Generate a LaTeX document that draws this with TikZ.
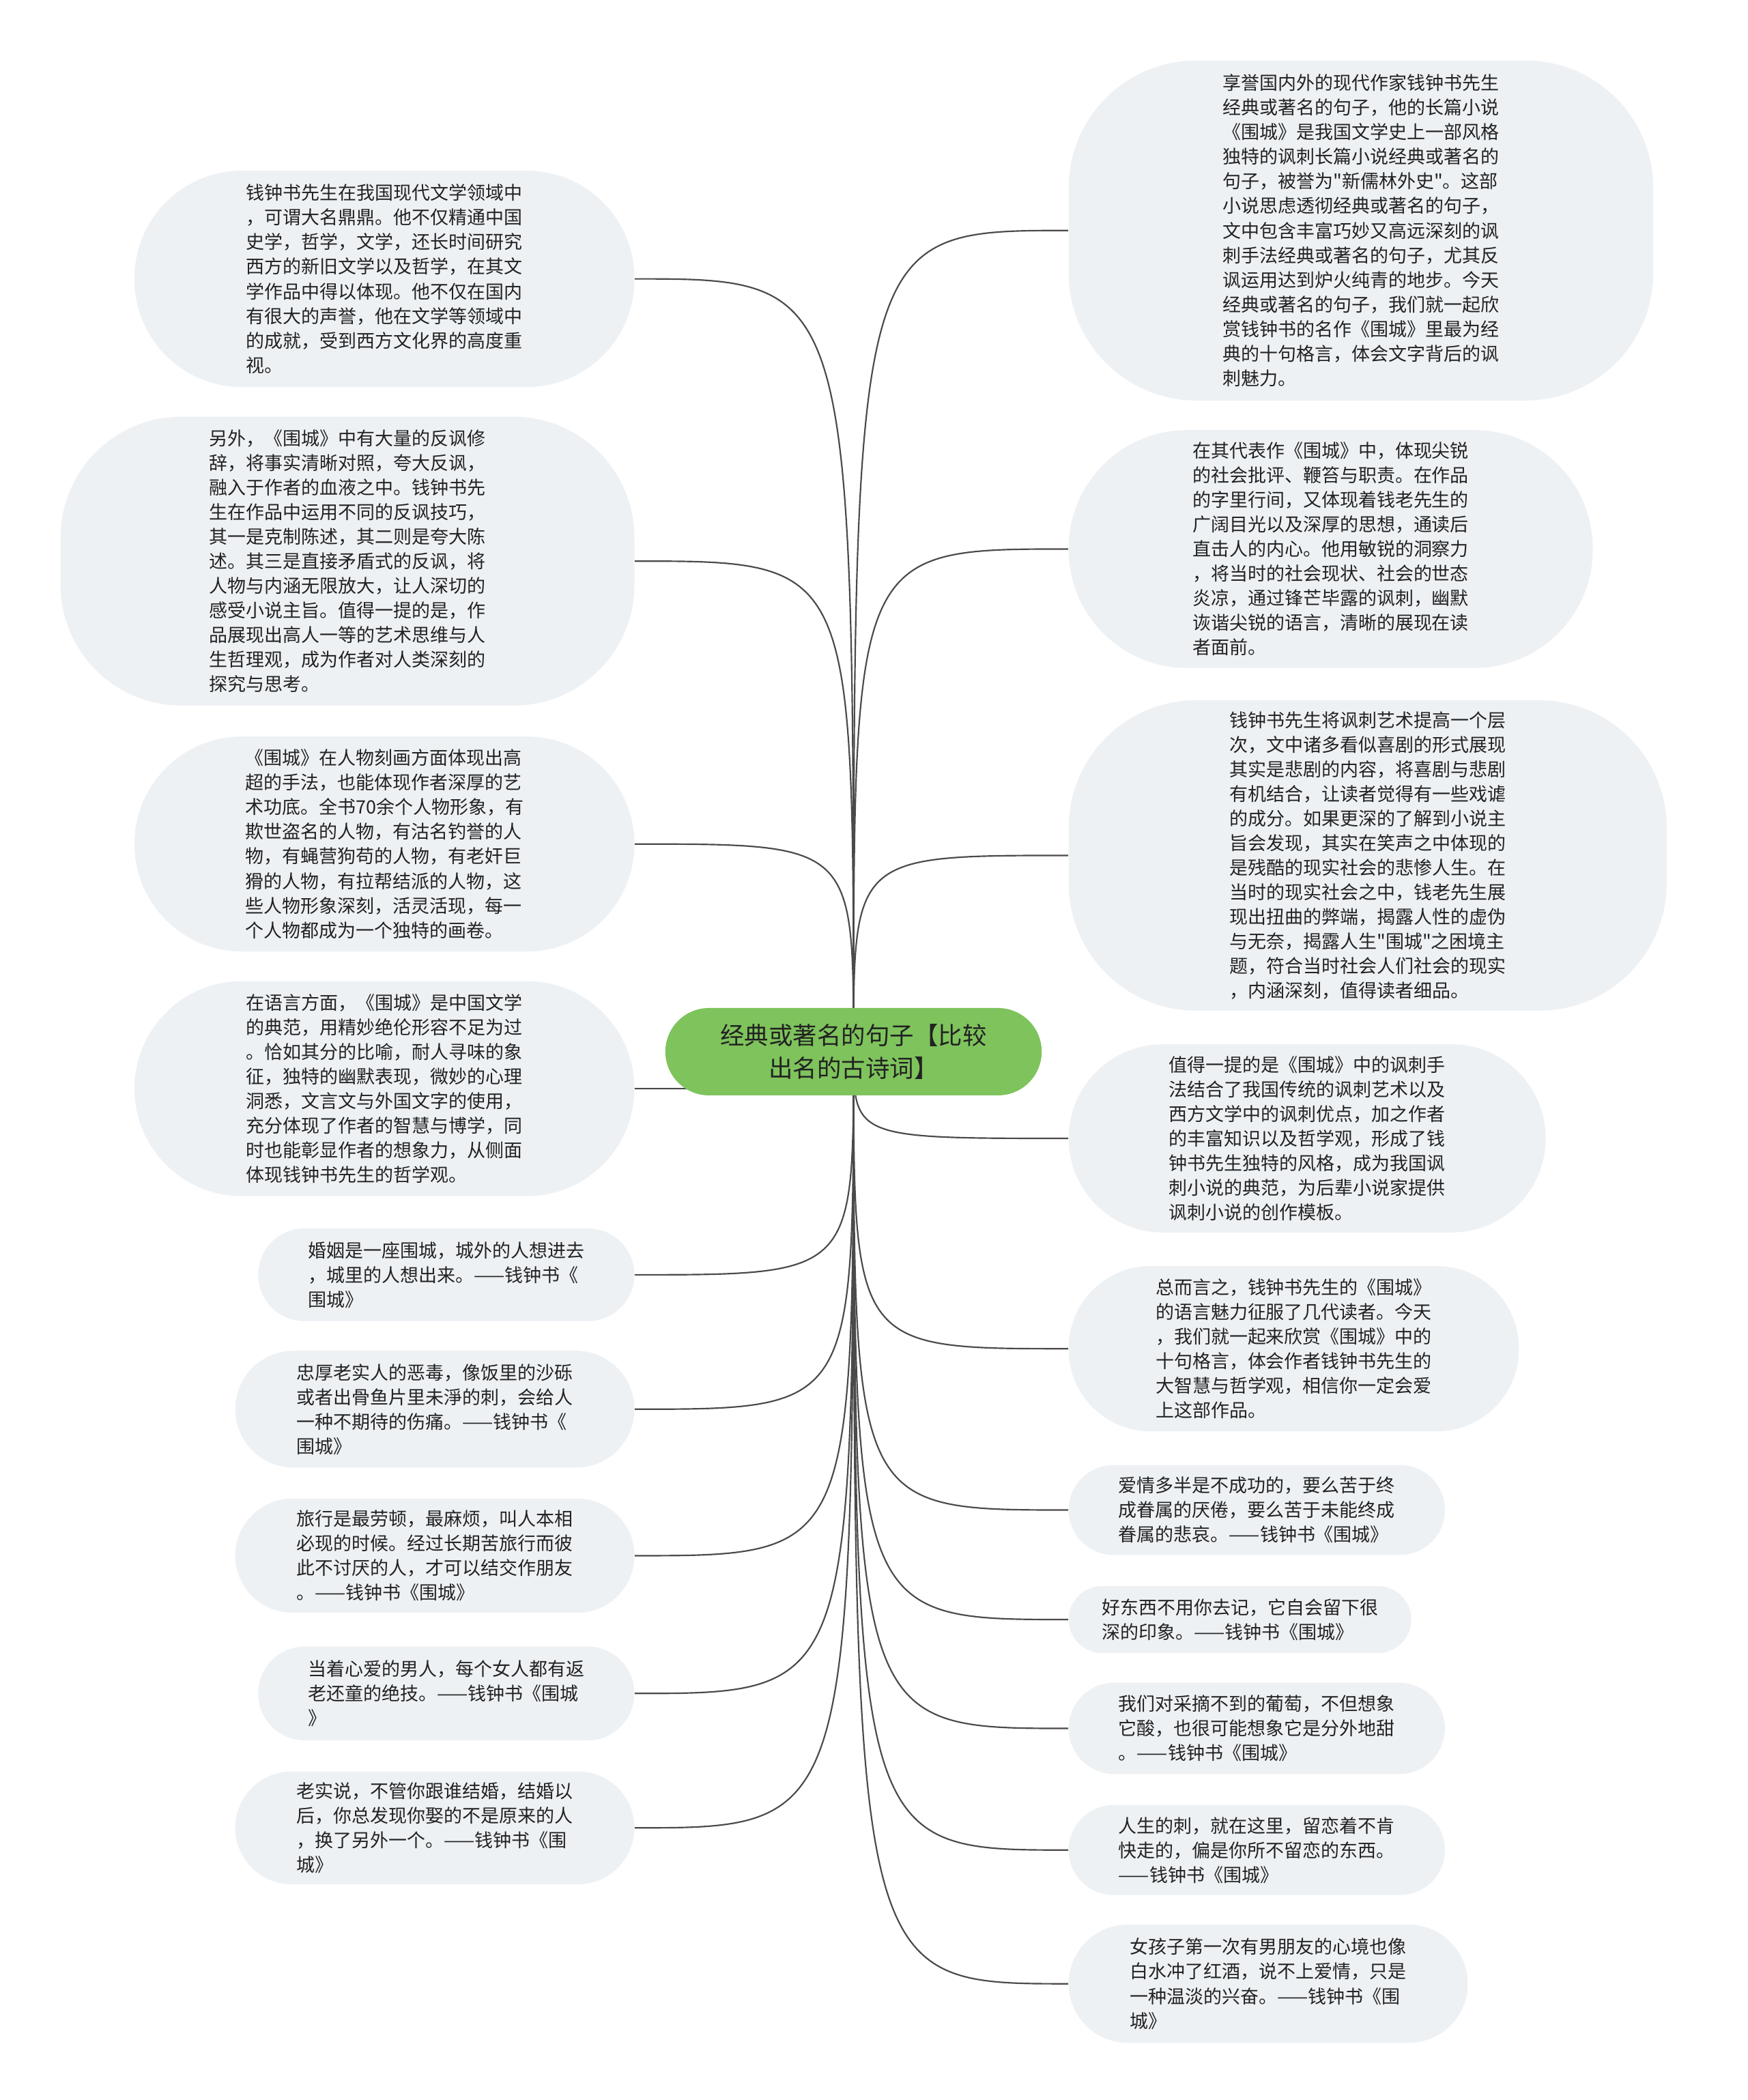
\documentclass[tikz,border=0pt]{standalone}
\usepackage{fontspec}
\usepackage{tikz}
\usetikzlibrary{backgrounds}
\newfontfamily\cjk{Noto Sans CJK SC}
\definecolor{leafgray}{HTML}{EEF1F4}
\definecolor{rootgreen}{HTML}{7EC35C}
\definecolor{linkgray}{HTML}{4A4A4A}
\definecolor{textdark}{HTML}{222222}

\begin{document}
\begin{tikzpicture}[x=1pt, y=-1pt,
    leaf/.style={fill=leafgray, inner sep=0pt, align=left, text=textdark,
      font=\cjk\fontsize{13.7}{18.3}\selectfont},
    root/.style={fill=rootgreen, inner sep=0pt, align=center, text=textdark,
      font=\cjk\fontsize{18}{24}\selectfont},
    link/.style={draw=linkgray, line width=1.1pt}]
    \useasboundingbox (0,0) rectangle (1300,1562.5);
    \node[root, minimum width=280pt, minimum height=65pt, rounded corners=32.5pt] (root) at (635,782.5) {经典或著名的句子【比较\\出名的古诗词】};
    \node[leaf, minimum width=372pt, minimum height=161pt, rounded corners=80pt] (l1) at (286,207.5) {钱钟书先生在我国现代文学领域中\\，可谓大名鼎鼎。他不仅精通中国\\史学，哲学，文学，还长时间研究\\西方的新旧文学以及哲学，在其文\\学作品中得以体现。他不仅在国内\\有很大的声誉，他在文学等领域中\\的成就，受到西方文化界的高度重\\视。};
    \node[leaf, minimum width=427pt, minimum height=215pt, rounded corners=90pt] (l2) at (258.5,417.5) {另外，《围城》中有大量的反讽修\\辞，将事实清晰对照，夸大反讽，\\融入于作者的血液之中。钱钟书先\\生在作品中运用不同的反讽技巧，\\其一是克制陈述，其二则是夸大陈\\述。其三是直接矛盾式的反讽，将\\人物与内涵无限放大，让人深切的\\感受小说主旨。值得一提的是，作\\品展现出高人一等的艺术思维与人\\生哲理观，成为作者对人类深刻的\\探究与思考。};
    \node[leaf, minimum width=372pt, minimum height=160pt, rounded corners=80pt] (l3) at (286,628) {《围城》在人物刻画方面体现出高\\超的手法，也能体现作者深厚的艺\\术功底。全书70余个人物形象，有\\欺世盗名的人物，有沽名钓誉的人\\物，有蝇营狗苟的人物，有老奸巨\\猾的人物，有拉帮结派的人物，这\\些人物形象深刻，活灵活现，每一\\个人物都成为一个独特的画卷。};
    \node[leaf, minimum width=372pt, minimum height=160pt, rounded corners=80pt] (l4) at (286,810) {在语言方面，《围城》是中国文学\\的典范，用精妙绝伦形容不足为过\\。恰如其分的比喻，耐人寻味的象\\征，独特的幽默表现，微妙的心理\\洞悉，文言文与外国文字的使用，\\充分体现了作者的智慧与博学，同\\时也能彰显作者的想象力，从侧面\\体现钱钟书先生的哲学观。};
    \node[leaf, minimum width=280pt, minimum height=69pt, rounded corners=34.5pt] (l5) at (332,948.5) {婚姻是一座围城，城外的人想进去\\，城里的人想出来。——钱钟书《\\围城》};
    \node[leaf, minimum width=297pt, minimum height=87pt, rounded corners=43.5pt] (l6) at (323.5,1048.5) {忠厚老实人的恶毒，像饭里的沙砾\\或者出骨鱼片里未淨的刺，会给人\\一种不期待的伤痛。——钱钟书《\\围城》};
    \node[leaf, minimum width=297pt, minimum height=85pt, rounded corners=42.5pt] (l7) at (323.5,1157.5) {旅行是最劳顿，最麻烦，叫人本相\\必现的时候。经过长期苦旅行而彼\\此不讨厌的人，才可以结交作朋友\\。——钱钟书《围城》};
    \node[leaf, minimum width=280pt, minimum height=70pt, rounded corners=35pt] (l8) at (332,1260) {当着心爱的男人，每个女人都有返\\老还童的绝技。——钱钟书《围城\\》};
    \node[leaf, minimum width=297pt, minimum height=84pt, rounded corners=42pt] (l9) at (323.5,1360) {老实说，不管你跟谁结婚，结婚以\\后，你总发现你娶的不是原来的人\\，换了另外一个。——钱钟书《围\\城》};
    \node[leaf, minimum width=435pt, minimum height=253pt, rounded corners=95pt] (r1) at (1012.5,171.5) {享誉国内外的现代作家钱钟书先生\\经典或著名的句子，他的长篇小说\\《围城》是我国文学史上一部风格\\独特的讽刺长篇小说经典或著名的\\句子，被誉为"新儒林外史"。这部\\小说思虑透彻经典或著名的句子，\\文中包含丰富巧妙又高远深刻的讽\\刺手法经典或著名的句子，尤其反\\讽运用达到炉火纯青的地步。今天\\经典或著名的句子，我们就一起欣\\赏钱钟书的名作《围城》里最为经\\典的十句格言，体会文字背后的讽\\刺魅力。};
    \node[leaf, minimum width=390pt, minimum height=177pt, rounded corners=88pt] (r2) at (990,408.5) {在其代表作《围城》中，体现尖锐\\的社会批评、鞭笞与职责。在作品\\的字里行间，又体现着钱老先生的\\广阔目光以及深厚的思想，通读后\\直击人的内心。他用敏锐的洞察力\\，将当时的社会现状、社会的世态\\炎凉，通过锋芒毕露的讽刺，幽默\\诙谐尖锐的语言，清晰的展现在读\\者面前。};
    \node[leaf, minimum width=445pt, minimum height=231pt, rounded corners=95pt] (r3) at (1017.5,636.5) {钱钟书先生将讽刺艺术提高一个层\\次，文中诸多看似喜剧的形式展现\\其实是悲剧的内容，将喜剧与悲剧\\有机结合，让读者觉得有一些戏谑\\的成分。如果更深的了解到小说主\\旨会发现，其实在笑声之中体现的\\是残酷的现实社会的悲惨人生。在\\当时的现实社会之中，钱老先生展\\现出扭曲的弊端，揭露人性的虚伪\\与无奈，揭露人生"围城"之困境主\\题，符合当时社会人们社会的现实\\，内涵深刻，值得读者细品。};
    \node[leaf, minimum width=355pt, minimum height=140pt, rounded corners=70pt] (r4) at (972.5,847) {值得一提的是《围城》中的讽刺手\\法结合了我国传统的讽刺艺术以及\\西方文学中的讽刺优点，加之作者\\的丰富知识以及哲学观，形成了钱\\钟书先生独特的风格，成为我国讽\\刺小说的典范，为后辈小说家提供\\讽刺小说的创作模板。};
    \node[leaf, minimum width=335pt, minimum height=123pt, rounded corners=61pt] (r5) at (962.5,1003.5) {总而言之，钱钟书先生的《围城》\\的语言魅力征服了几代读者。今天\\，我们就一起来欣赏《围城》中的\\十句格言，体会作者钱钟书先生的\\大智慧与哲学观，相信你一定会爱\\上这部作品。};
    \node[leaf, minimum width=280pt, minimum height=67pt, rounded corners=33.5pt] (r6) at (935,1123.5) {爱情多半是不成功的，要么苦于终\\成眷属的厌倦，要么苦于未能终成\\眷属的悲哀。——钱钟书《围城》};
    \node[leaf, minimum width=255pt, minimum height=50pt, rounded corners=25pt] (r7) at (922.5,1205) {好东西不用你去记，它自会留下很\\深的印象。——钱钟书《围城》};
    \node[leaf, minimum width=280pt, minimum height=68pt, rounded corners=34pt] (r8) at (935,1286) {我们对采摘不到的葡萄，不但想象\\它酸，也很可能想象它是分外地甜\\。——钱钟书《围城》};
    \node[leaf, minimum width=280pt, minimum height=67pt, rounded corners=33.5pt] (r9) at (935,1376.5) {人生的刺，就在这里，留恋着不肯\\快走的，偏是你所不留恋的东西。\\——钱钟书《围城》};
    \node[leaf, minimum width=297pt, minimum height=88pt, rounded corners=44pt] (r10) at (943.5,1476) {女孩子第一次有男朋友的心境也像\\白水冲了红酒，说不上爱情，只是\\一种温淡的兴奋。——钱钟书《围\\城》};
    \begin{scope}[on background layer]
    \draw[link] (root.center) .. controls (root.center |- l1.east) .. (l1.east);
    \draw[link] (root.center) .. controls (root.center |- l2.east) .. (l2.east);
    \draw[link] (root.center) .. controls (root.center |- l3.east) .. (l3.east);
    \draw[link] (root.center) .. controls (root.center |- l4.east) .. (l4.east);
    \draw[link] (root.center) .. controls (root.center |- l5.east) .. (l5.east);
    \draw[link] (root.center) .. controls (root.center |- l6.east) .. (l6.east);
    \draw[link] (root.center) .. controls (root.center |- l7.east) .. (l7.east);
    \draw[link] (root.center) .. controls (root.center |- l8.east) .. (l8.east);
    \draw[link] (root.center) .. controls (root.center |- l9.east) .. (l9.east);
    \draw[link] (root.center) .. controls (root.center |- r1.west) .. (r1.west);
    \draw[link] (root.center) .. controls (root.center |- r2.west) .. (r2.west);
    \draw[link] (root.center) .. controls (root.center |- r3.west) .. (r3.west);
    \draw[link] (root.center) .. controls (root.center |- r4.west) .. (r4.west);
    \draw[link] (root.center) .. controls (root.center |- r5.west) .. (r5.west);
    \draw[link] (root.center) .. controls (root.center |- r6.west) .. (r6.west);
    \draw[link] (root.center) .. controls (root.center |- r7.west) .. (r7.west);
    \draw[link] (root.center) .. controls (root.center |- r8.west) .. (r8.west);
    \draw[link] (root.center) .. controls (root.center |- r9.west) .. (r9.west);
    \draw[link] (root.center) .. controls (root.center |- r10.west) .. (r10.west);
    \end{scope}
\end{tikzpicture}
\end{document}
